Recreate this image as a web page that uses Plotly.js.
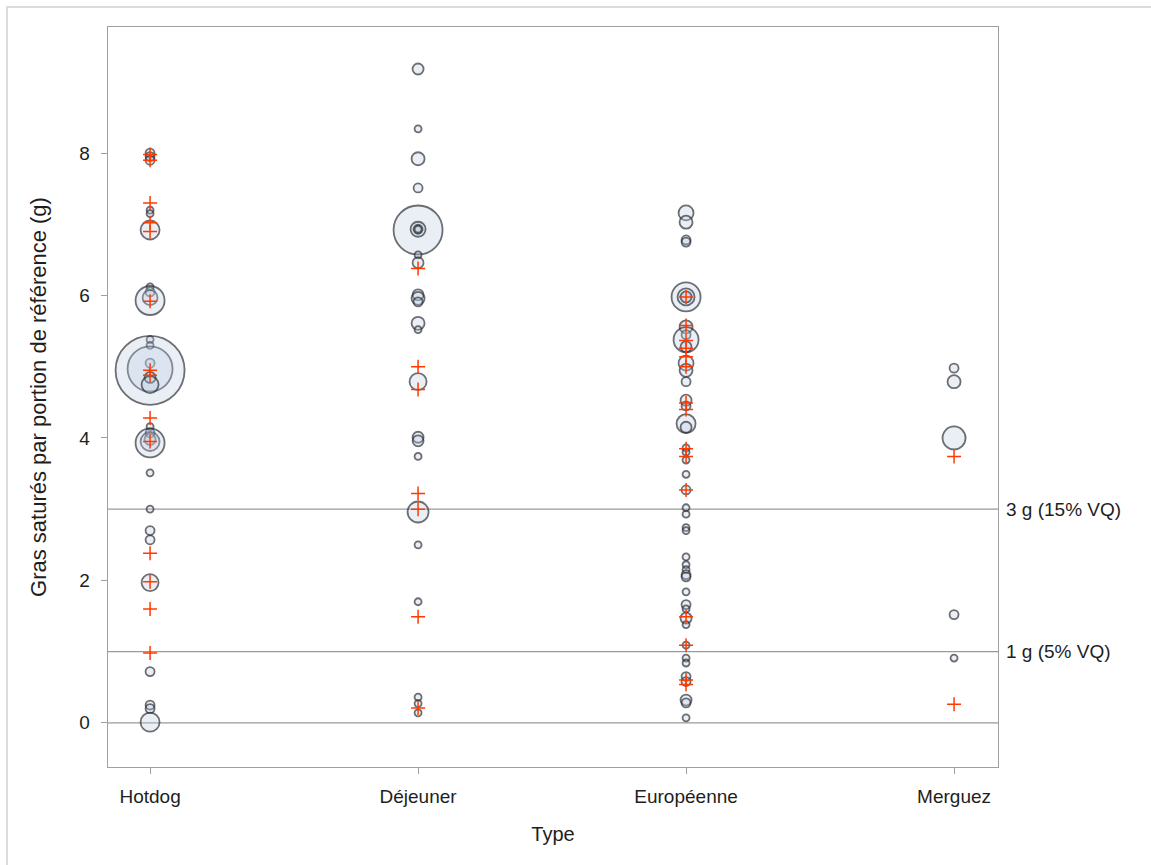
<!DOCTYPE html>
<html>
<head>
<meta charset="utf-8">
<script src="https://cdn.plot.ly/plotly-3.0.1.min.js"></script>
<style>
  html, body { margin: 0; padding: 0; background: #fff; }
  #cadre { position: absolute; left: 6px; top: 6px; width: 1160px; height: 880px;
           border-left: 2px solid #dcdcdc; border-top: 2px solid #dcdcdc; }
  #graph { position: absolute; left: 0; top: 0; width: 1151px; height: 865px; }
</style>
</head>
<body>
<div id="cadre"></div>
<div id="graph"></div>
<script>
// Catégories de saucisses
const categories = ["Hotdog", "Déjeuner", "Européenne", "Merguez"];

// Bulles : gras saturés (g) par portion et nombre de produits
const grasHotdog = [8.00, 7.95, 7.90, 7.20, 7.15, 6.92, 6.12, 6.05, 5.97, 5.93, 5.38, 5.30, 5.05, 4.97, 4.95, 4.85, 4.75, 4.16, 4.07, 3.98, 3.95, 3.93, 3.51, 3.00, 2.70, 2.57, 1.97, 0.72, 0.25, 0.20, 0.01];
const nbHotdog   = [2, 2, 2, 1, 1, 7, 1, 2, 5, 12, 1, 1, 2, 20, 32, 3, 6, 1, 2, 3, 7, 12, 1, 1, 2, 2, 6, 2, 2, 2, 7];

const grasDejeuner = [9.18, 8.34, 7.92, 7.51, 6.92, 6.93, 6.93, 6.93, 6.57, 6.46, 6.01, 5.96, 5.91, 5.61, 5.52, 4.79, 4.01, 3.96, 3.74, 2.96, 2.50, 1.70, 0.36, 0.27, 0.14];
const nbDejeuner   = [3, 1, 4, 2, 22, 5, 2, 1, 1, 3, 3, 4, 2, 4, 1, 6, 3, 3, 1, 8, 1, 1, 1, 1, 1];

const grasEuropeenne = [7.16, 7.03, 6.78, 6.75, 5.98, 5.98, 5.98, 5.56, 5.45, 5.38, 5.28, 5.05, 4.95, 4.79, 4.53, 4.45, 4.20, 4.15, 3.86, 3.80, 3.69, 3.49, 3.27, 3.02, 2.93, 2.74, 2.70, 2.33, 2.22, 2.15, 2.08, 2.05, 1.84, 1.66, 1.60, 1.47, 1.38, 1.09, 0.91, 0.84, 0.65, 0.58, 0.32, 0.28, 0.07];
const nbEuropeenne   = [5, 4, 2, 2, 12, 6, 3, 4, 2, 10, 3, 5, 4, 2, 3, 2, 7, 3, 1, 1, 1, 1, 2, 1, 1, 1, 1, 1, 1, 1, 2, 2, 1, 2, 1, 3, 1, 1, 1, 1, 2, 2, 3, 2, 1];

const grasMerguez = [4.98, 4.79, 4.00, 1.52, 0.91];
const nbMerguez   = [2, 4, 9, 2, 1];

// Croix : valeurs individuelles signalées
const croixHotdog     = [7.98, 7.90, 7.30, 7.02, 6.90, 5.92, 4.95, 4.88, 4.28, 3.95, 2.38, 1.98, 1.60, 0.98];
const croixDejeuner   = [6.38, 5.00, 4.68, 3.22, 3.00, 1.49, 0.21];
const croixEuropeenne = [5.98, 5.58, 5.37, 5.26, 5.14, 5.00, 4.49, 4.40, 3.85, 3.74, 3.27, 1.49, 1.09, 0.60, 0.54];
const croixMerguez    = [3.74, 0.26];

// Seuils de référence
const seuils = [0, 1, 3];
const seuilsTexte = ["", "1 g (5% VQ)", "3 g (15% VQ)"];

const bulleGras = [grasHotdog, grasDejeuner, grasEuropeenne, grasMerguez];
const bulleNb = [nbHotdog, nbDejeuner, nbEuropeenne, nbMerguez];
const croixGras = [croixHotdog, croixDejeuner, croixEuropeenne, croixMerguez];

const bx = [], by = [], bn = [];
bulleGras.forEach((arr, i) => arr.forEach((v, j) => { bx.push(categories[i]); by.push(v); bn.push(bulleNb[i][j]); }));
const cx = [], cy = [];
croixGras.forEach((arr, i) => arr.forEach(v => { cx.push(categories[i]); cy.push(v); }));

// Rayon de bulle : croît linéairement avec le nombre de produits
const diametre = n => 2 * (3.5 + (n - 1) * 1.0);

const police = "Liberation Sans, Arial, sans-serif";
const encre = "#1e1e1e";

const traces = [
  {
    type: "scatter", mode: "markers", x: bx, y: by,
    marker: {
      size: bn.map(diametre), sizemode: "diameter",
      color: "rgba(185,202,226,0.42)",
      line: { color: "#2e3238", width: 1.8 }
    },
    hoverinfo: "x+y", showlegend: false
  },
  {
    type: "scatter", mode: "markers", x: cx, y: cy,
    marker: { symbol: "cross-thin-open", size: 10, color: "#ff3a00", line: { color: "#ff3a00", width: 1.5 } },
    hoverinfo: "x+y", showlegend: false
  }
];

const shapes = seuils.map(s => ({
  type: "line", xref: "paper", x0: 0, x1: 1, yref: "y", y0: s, y1: s,
  line: { color: "#9a9a9a", width: 1.3 }, layer: "below"
}));

const annotations = seuils.filter((s, i) => seuilsTexte[i]).map(s => ({
  xref: "paper", x: 1, xanchor: "left", xshift: 6,
  yref: "y", y: s, yanchor: "middle",
  text: seuilsTexte[seuils.indexOf(s)], showarrow: false,
  font: { family: police, size: 19, color: encre }
}));

const layout = {
  width: 1151, height: 865,
  margin: { l: 108, r: 153, t: 27, b: 98 },
  paper_bgcolor: "rgba(0,0,0,0)", plot_bgcolor: "#fff",
  showlegend: false,
  font: { family: police, size: 19, color: encre },
  xaxis: {
    type: "category", categoryarray: categories, range: [-0.157, 3.164],
    showline: true, mirror: true, linecolor: "#a0a0a0", linewidth: 1.3,
    ticks: "outside", ticklen: 6, tickcolor: "#a0a0a0", ticklabelstandoff: 6,
    showgrid: false, zeroline: false, automargin: false,
    tickfont: { family: police, size: 19, color: encre },
    title: { text: "Type", font: { family: police, size: 20, color: encre }, standoff: 21 }
  },
  yaxis: {
    range: [-0.62, 9.77], tickvals: [0, 2, 4, 6, 8],
    showline: true, mirror: true, linecolor: "#a0a0a0", linewidth: 1.3,
    ticks: "outside", ticklen: 6, tickcolor: "#a0a0a0", ticklabelstandoff: 7,
    showgrid: false, zeroline: false, automargin: false,
    tickfont: { family: police, size: 19, color: encre },
    title: { text: "Gras saturés par portion de référence (g)", font: { family: police, size: 22, color: encre }, standoff: 26 }
  },
  shapes: shapes,
  annotations: annotations
};

Plotly.newPlot("graph", traces, layout, { displayModeBar: false, staticPlot: true });
</script>
</body>
</html>
